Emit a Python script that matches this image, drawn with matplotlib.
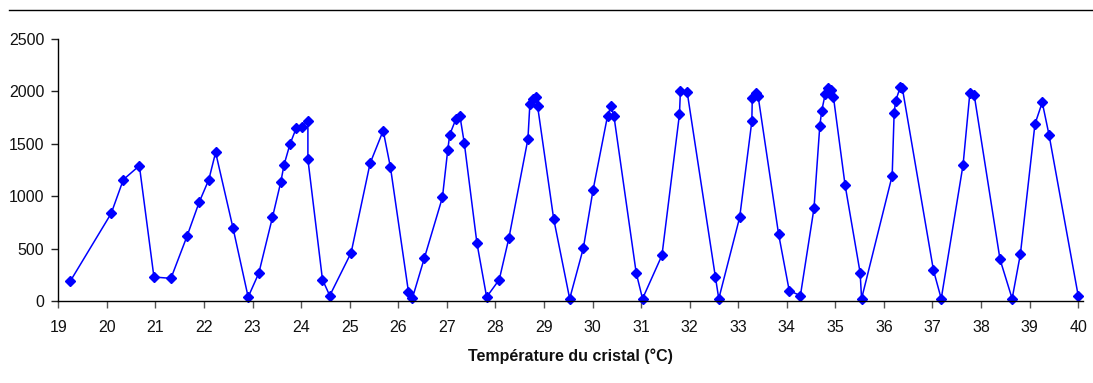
import matplotlib
matplotlib.use("Agg")
import matplotlib.pyplot as plt
from matplotlib.lines import Line2D

temperature = [19.25, 20.09, 20.34, 20.67, 20.97, 21.32, 21.65, 21.90, 22.10, 22.24,
               22.60, 22.91, 23.13, 23.41, 23.58, 23.65, 23.77, 23.90, 24.01, 24.14,
               24.14, 24.44, 24.59, 25.03, 25.42, 25.69, 25.84, 26.21, 26.29, 26.54,
               26.91, 27.02, 27.06, 27.19, 27.27, 27.36, 27.62, 27.82, 28.08, 28.28,
               28.67, 28.71, 28.77, 28.84, 28.87, 29.20, 29.53, 29.81, 30.01, 30.31,
               30.38, 30.44, 30.90, 31.03, 31.43, 31.79, 31.81, 31.95, 32.53, 32.60,
               33.03, 33.28, 33.29, 33.36, 33.41, 33.83, 34.05, 34.28, 34.56, 34.68,
               34.72, 34.79, 34.84, 34.92, 34.96, 35.20, 35.51, 35.54, 36.17, 36.21,
               36.24, 36.34, 36.38, 37.02, 37.18, 37.63, 37.77, 37.86, 38.39, 38.64,
               38.81, 39.11, 39.26, 39.40, 40.00]
intensity = [191, 836, 1158, 1291, 229, 216, 617, 941, 1158, 1418,
             693, 38, 267, 798, 1132, 1301, 1495, 1650, 1663, 1714,
             1352, 204, 51, 461, 1313, 1625, 1275, 89, 25, 413,
             989, 1444, 1587, 1739, 1765, 1507, 553, 38, 204, 604,
             1545, 1876, 1924, 1946, 1857, 785, 22, 502, 1056, 1768,
             1857, 1768, 267, 22, 436, 1781, 2003, 1991, 229, 22,
             798, 1714, 1940, 1981, 1953, 642, 99, 51, 884, 1673,
             1816, 1972, 2035, 2013, 1949, 1107, 270, 22, 1196, 1790,
             1908, 2045, 2029, 293, 22, 1301, 1988, 1962, 398, 22,
             448, 1689, 1895, 1584, 51]
x_ticks = list(range(19, 41))
y_ticks = [0, 500, 1000, 1500, 2000, 2500]
x_label = "Température du cristal (°C)"

plt.rcParams['font.family'] = ['Liberation Sans', 'DejaVu Sans']

fig = plt.figure(figsize=(10.93, 3.83), dpi=100)
ax = fig.add_axes([0.0533, 0.2141, 0.9376, 0.6841])
ax.plot(temperature, intensity, color='#0000ff', lw=1.1, marker='D', ms=5.5,
        markeredgecolor='#0000ff', markerfacecolor='#0000ff', clip_on=False)
ax.set_xlim(19, 40.1)
ax.set_ylim(0, 2500)
ax.set_xticks(x_ticks)
ax.set_yticks(y_ticks)
ax.tick_params(direction='out', length=5, width=1, labelsize=11.5, colors='#222222')
ax.tick_params(axis='x', colors='#555555', labelcolor='#111111', pad=8.5)
ax.tick_params(axis='y', labelcolor='#111111', pad=5)
for s in ['top', 'right']:
    ax.spines[s].set_visible(False)
for s in ['left', 'bottom']:
    ax.spines[s].set_color('black')
    ax.spines[s].set_linewidth(1)
ax.set_xlabel(x_label, fontsize=11.5, fontweight='bold', labelpad=10, color='#111111')

fig.add_artist(Line2D([9/1093, 1.0], [1 - 10/383, 1 - 10/383], color='black', lw=1,
                      transform=fig.transFigure))

fig.savefig('out.png', dpi=100)
